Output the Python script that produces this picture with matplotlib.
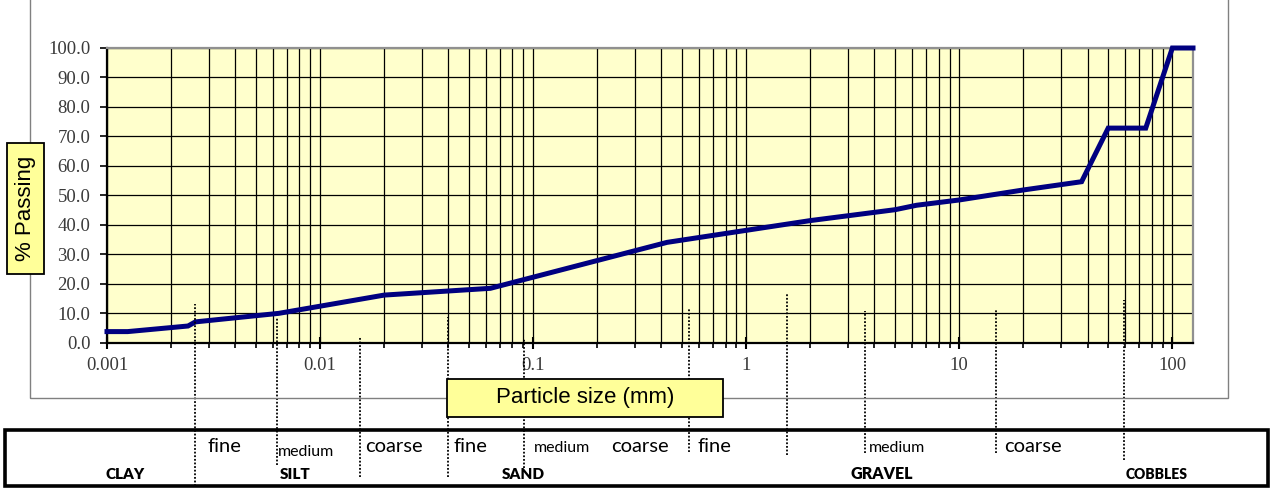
import matplotlib
matplotlib.use("Agg")
import matplotlib.pyplot as plt
from matplotlib.patches import Rectangle
from matplotlib.ticker import FixedLocator, FixedFormatter, LogLocator, NullFormatter

# grading curve (particle size in mm vs % passing)
size_mm = [0.001, 0.00125, 0.0024, 0.0026, 0.0064, 0.02, 0.063, 0.425,
           2.0, 5.0, 6.3, 10, 20, 37.5, 50, 75, 100, 125]
passing = [3.7, 3.7, 5.6, 7.0, 9.9, 16.1, 18.4, 34.0,
           41.4, 45.1, 46.6, 48.4, 51.8, 54.6, 72.8, 72.8, 100, 100]

x_ticks = [0.001, 0.01, 0.1, 1, 10, 100]
x_tick_labels = ["0.001", "0.01", "0.1", "1", "10", "100"]
y_ticks = [0, 10, 20, 30, 40, 50, 60, 70, 80, 90, 100]

# soil class boundaries (mm) drawn as dotted markers
boundaries = [0.0026, 0.0063, 0.0154, 0.040, 0.091, 0.54, 1.55, 3.6, 14.8, 59]

# sub-class and class labels of the table under the chart
sub_labels = ["fine", "medium", "coarse", "fine", "medium", "coarse", "fine", "medium", "coarse"]
main_labels = ["CLAY", "SILT", "SAND", "GRAVEL", "COBBLES"]

W, H = 1274, 495
fig = plt.figure(figsize=(W / 100, H / 100), dpi=100)

def fx(px):
    return px / W

def fy(py):
    return (H - py) / H

# outer chart frame
fig.add_artist(Rectangle((fx(30), fy(398)), fx(1228) - fx(30), 1.05 - fy(398),
                         transform=fig.transFigure, facecolor="none",
                         edgecolor="#808080", lw=1))

ax = fig.add_axes([fx(107), fy(342.5), fx(1193) - fx(107), fy(48) - fy(342.5)])
ax.set_facecolor("#FFFFCC")
ax.plot(size_mm, passing, color="#000080", lw=3.6, solid_joinstyle="miter", zorder=3,
        clip_on=False)
ax.set_xscale("log")
ax.set_xlim(0.001, 125)
ax.set_ylim(0, 100)

ax.xaxis.set_major_locator(FixedLocator(x_ticks))
ax.xaxis.set_major_formatter(FixedFormatter(x_tick_labels))
ax.xaxis.set_minor_locator(LogLocator(base=10, subs=range(2, 10), numticks=20))
ax.xaxis.set_minor_formatter(NullFormatter())
ax.set_yticks(y_ticks)
ax.set_yticklabels(["%.1f" % v for v in y_ticks])

ax.grid(True, which="major", color="black", lw=0.9)
ax.grid(True, which="minor", axis="x", color="black", lw=0.9)
ax.set_axisbelow(True)

for lbl in ax.get_xticklabels() + ax.get_yticklabels():
    lbl.set_family("Liberation Serif")
    lbl.set_fontsize(13.5)
    lbl.set_color("#3a3a3a")
ax.tick_params(axis="x", which="major", direction="inout", length=9, width=1.5, pad=6)
ax.tick_params(axis="x", which="minor", direction="out", length=3.5, width=1.2)
ax.tick_params(axis="y", direction="out", length=5, width=1.2, pad=7)

for s in ["left", "bottom"]:
    ax.spines[s].set_color("black")
    ax.spines[s].set_linewidth(1.6)
for s in ["top", "right"]:
    ax.spines[s].set_color("#909090")
    ax.spines[s].set_linewidth(1.6)

# dotted class boundaries reaching down into the table
line_top = [304, 317, 337, 317, 339, 309, 294, 311, 310, 300]
line_bot = [486, 465, 477, 477, 468, 452, 455, 453, 453, 460]
ax_h = 342.5 - 48
for xb, t, b in zip(boundaries, line_top, line_bot):
    ax.axvline(xb, ymin=(342.5 - b) / ax_h, ymax=(342.5 - t) / ax_h, color="black",
               lw=1.3, ls=(0, (1, 1)), clip_on=False, zorder=4)

# axis title boxes
fig.add_artist(Rectangle((fx(447), fy(417)), fx(723) - fx(447), fy(379) - fy(417),
                         transform=fig.transFigure, facecolor="#FFFF99",
                         edgecolor="black", lw=1.3, zorder=5))
fig.text(fx(585), fy(398), "Particle size (mm)", ha="center", va="center",
         family="Liberation Sans", fontsize=16, zorder=6)
fig.add_artist(Rectangle((fx(7), fy(274)), fx(44) - fx(7), fy(143) - fy(274),
                         transform=fig.transFigure, facecolor="#FFFF99",
                         edgecolor="black", lw=1.3, zorder=5))
fig.text(fx(26), fy(208.5), "% Passing", ha="center", va="center", rotation=90,
         family="Liberation Sans", fontsize=16, zorder=6)

# classification table
fig.add_artist(Rectangle((fx(5), fy(486)), fx(1268) - fx(5), fy(430) - fy(486),
                         transform=fig.transFigure, facecolor="none",
                         edgecolor="black", lw=2.6, zorder=5))
sub_x = [207, 278, 365, 453, 534, 611, 697, 869, 1004]
sub_base = [452, 456, 452, 452, 452, 452, 452, 452, 452]
for lab, x0, yb in zip(sub_labels, sub_x, sub_base):
    small = lab == "medium"
    fig.text(fx(x0), fy(yb), lab, ha="left", va="baseline", family="Lato",
             fontsize=11.5 if small else 14.5)
main_x = [125, 295, 523, 882, 1157]
main_fs = [11, 11, 11, 11.5, 10]
for lab, xc, fs in zip(main_labels, main_x, main_fs):
    fig.text(fx(xc), fy(479), lab, ha="center", va="baseline", family="Lato",
             weight="heavy", fontsize=fs)

fig.savefig("out.png", dpi=100)
